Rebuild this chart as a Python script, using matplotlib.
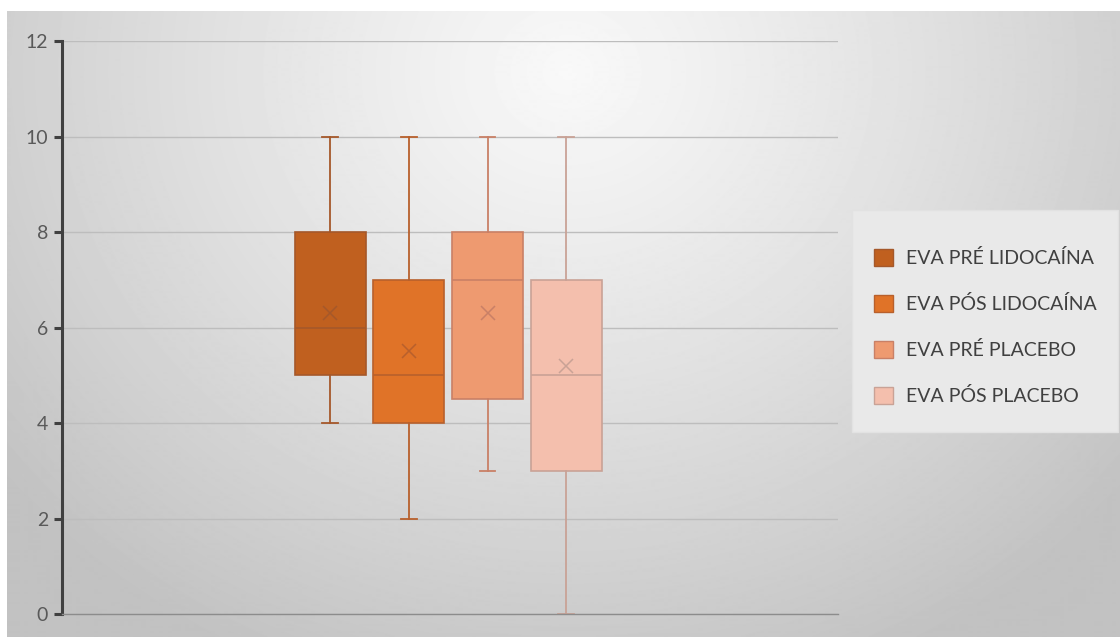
import numpy as np
import matplotlib.pyplot as plt
from matplotlib.patches import Patch, Rectangle

series = ['EVA PRÉ LIDOCAÍNA', 'EVA PÓS LIDOCAÍNA', 'EVA PRÉ PLACEBO', 'EVA PÓS PLACEBO']
whislo = [4, 2, 3, 0]
q1 = [5, 4, 4.5, 3]
med = [6, 5, 7, 5]
q3 = [8, 7, 8, 7]
whishi = [10, 10, 10, 10]
mean = [6.3, 5.5, 6.3, 5.2]
yticks = [0, 2, 4, 6, 8, 10, 12]

fills = ['#C0601F', '#E07328', '#EE9A70', '#F4BFAD']
edges = ['#A5582A', '#B8602C', '#C98066', '#C9A296']

plt.rcParams['font.family'] = ['Lato', 'DejaVu Sans']

fig = plt.figure(figsize=(11.2, 6.37), dpi=100)

# radial gradient background
bg = fig.add_axes([0.006, 0, 0.994, 0.982])
W, H = 1113, 625
gx, gy = np.meshgrid(np.arange(W), np.arange(H))
d = np.sqrt(((gx - 560) / 1.0) ** 2 + ((gy - 60) / 0.9) ** 2)
g = np.clip(0.975 - d * 0.00024 - d ** 2 * 0.00000008, 0.76, 1)
bg.imshow(g, cmap='gray', vmin=0, vmax=1, aspect='auto', origin='upper')
bg.axis('off')

ax = fig.add_axes([0.0554, 0.036, 0.693, 0.8995])
ax.patch.set_alpha(0)

stats = []
for i in range(4):
    stats.append(dict(whislo=whislo[i], q1=q1[i], med=med[i], q3=q3[i],
                      whishi=whishi[i], mean=mean[i], fliers=[]))

pos = [1, 2, 3, 4]
for i in range(4):
    ax.bxp([stats[i]], positions=[pos[i]], widths=0.9, patch_artist=True,
           showmeans=True, showfliers=False,
           boxprops=dict(facecolor=fills[i], edgecolor=edges[i], linewidth=1.2),
           medianprops=dict(color=edges[i], linewidth=1.2),
           whiskerprops=dict(color=edges[i], linewidth=1.3),
           capprops=dict(color=edges[i], linewidth=1.3),
           capwidths=0.2,
           meanprops=dict(marker='x', markeredgecolor=edges[i], markersize=10,
                          markeredgewidth=1.1))

ax.set_xlim(-2.405, 7.455)
ax.set_ylim(0, 12)
ax.set_yticks(yticks)
ax.set_xticks([])
ax.yaxis.grid(True, color='#BDBDBD', linewidth=1)
ax.set_axisbelow(True)
for s in ['top', 'right']:
    ax.spines[s].set_visible(False)
ax.spines['left'].set_color('#404040')
ax.spines['left'].set_linewidth(2.2)
ax.spines['bottom'].set_color('#8C8C8C')
ax.spines['bottom'].set_linewidth(1)
ax.tick_params(axis='y', direction='out', length=6, width=2.2, color='#404040',
               labelcolor='#595959', labelsize=14, pad=4)

# legend background box
fig.patches.append(Rectangle((852 / 1120, 1 - 432 / 637), 266 / 1120, 222 / 637,
                             transform=fig.transFigure, facecolor='#E9E9E9',
                             edgecolor='#E2E2E2', zorder=1))

handles = [Patch(facecolor=fills[i], edgecolor=edges[i], label=series[i]) for i in range(4)]
leg = fig.legend(handles=handles, loc='center left', bbox_to_anchor=(874 / 1120, 0.487),
                 frameon=False, fontsize=14, labelcolor='#404040',
                 handlelength=1.0, handleheight=1.0, handletextpad=0.65,
                 labelspacing=1.42, borderpad=0, borderaxespad=0)

fig.savefig('out.png', dpi=100)
